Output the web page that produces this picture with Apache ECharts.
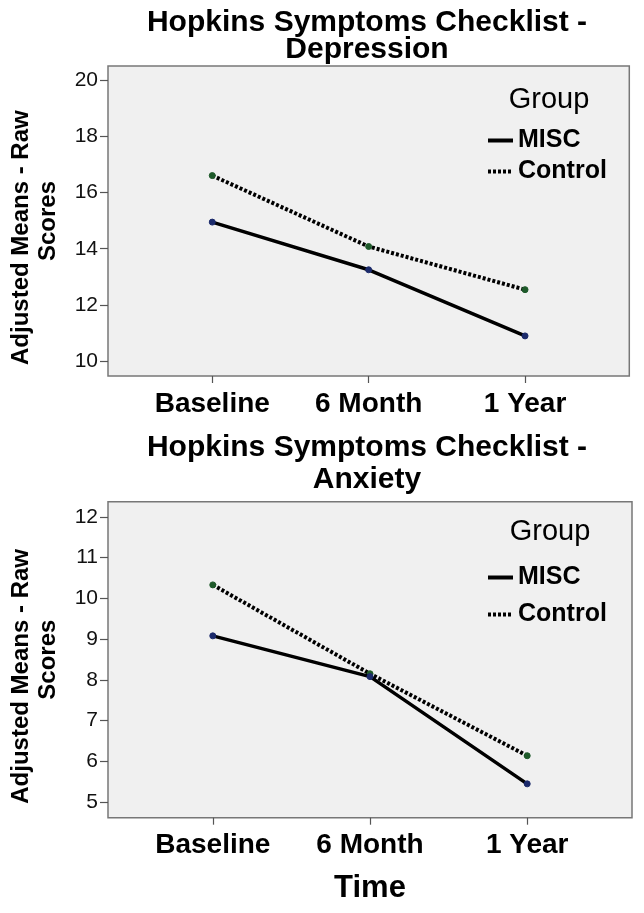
<!DOCTYPE html>
<html>
<head>
<meta charset="utf-8">
<script src="https://cdn.jsdelivr.net/npm/echarts@6/dist/echarts.min.js"></script>
<style>
html,body{margin:0;padding:0;background:#fff;}
#chart{width:644px;height:913px;}
</style>
</head>
<body>
<div id="chart"></div>
<script>
// ---- data ----
var categories = ['Baseline', '6 Month', '1 Year'];
var groups = ['MISC', 'Control'];
var depMISC = [14.95, 13.25, 10.89];
var depControl = [16.61, 14.08, 12.54];
var anxMISC = [9.08, 8.08, 5.45];
var anxControl = [10.33, 8.15, 6.14];
var depTicks = [10, 12, 14, 16, 18, 20];
var anxTicks = [5, 6, 7, 8, 9, 10, 11, 12];
var catIdx = [0, 1, 2];

var FONT = 'Liberation Sans, Arial, Helvetica, sans-serif';
function pairs(vals) { return vals.map(function (v, i) { return [i, v]; }); }

var chart = echarts.init(document.getElementById('chart'), null, {renderer: 'canvas'});

function xAxis(gridIndex, showName) {
  return {
    type: 'value', gridIndex: gridIndex, min: -2/3, max: 8/3,
    axisLine: {show: false, onZero: false},
    splitLine: {show: false},
    axisTick: {show: true, customValues: catIdx, length: 7, lineStyle: {color: '#555', width: 1.2}},
    axisLabel: {
      customValues: catIdx, margin: 14,
      formatter: function (v) { return categories[Math.round(v)]; },
      fontFamily: FONT, fontWeight: 'bold', fontSize: 28, color: '#000'
    },
    name: showName ? 'Time' : '',
    nameLocation: 'middle', nameGap: 55,
    nameTextStyle: {fontFamily: FONT, fontWeight: 'bold', fontSize: 31, color: '#000'}
  };
}
function yAxis(gridIndex, min, max, ticks) {
  return {
    type: 'value', gridIndex: gridIndex, min: min, max: max,
    axisLine: {show: false, onZero: false},
    splitLine: {show: false},
    axisTick: {show: true, customValues: ticks, length: 8, lineStyle: {color: '#555', width: 1.2}},
    axisLabel: {customValues: ticks, margin: 10, fontFamily: FONT, fontSize: 21, color: '#111'},
    name: 'Adjusted Means - Raw     \nScores',
    nameLocation: 'middle', nameRotate: 90, nameGap: 46,
    nameTextStyle: {fontFamily: FONT, fontWeight: 'bold', fontSize: 24, lineHeight: 27, color: '#000'}
  };
}
function series(name, vals, idx, dotted, markColor) {
  return {
    name: name, type: 'line', xAxisIndex: idx, yAxisIndex: idx,
    data: pairs(vals),
    symbol: 'circle', symbolSize: 6,
    itemStyle: {color: markColor, borderColor: markColor},
    lineStyle: {color: '#000', width: dotted ? 4 : 3.5, type: dotted ? [3, 2] : 'solid', cap: 'butt'},
    emphasis: {disabled: true},
    animation: false, z: dotted ? 3 : 4
  };
}
function legend(top, gap) {
  return {
    data: groups, orient: 'vertical', left: 486, top: top, padding: 0,
    itemWidth: 25, itemHeight: 14, itemGap: gap,
    itemStyle: {opacity: 0},
    lineStyle: {width: 4},
    textStyle: {fontFamily: FONT, fontWeight: 'bold', fontSize: 25, color: '#000'},
    selectedMode: false
  };
}

var option = {
  backgroundColor: '#fff',
  animation: false,
  title: [
    {text: 'Hopkins Symptoms Checklist -\nDepression', left: 367, top: 9, padding: 0, textAlign: 'center',
     textStyle: {fontFamily: FONT, fontWeight: 'bold', fontSize: 30, lineHeight: 27, color: '#000'}},
    {text: 'Hopkins Symptoms Checklist -\nAnxiety', left: 367, top: 432, padding: 0, textAlign: 'center',
     textStyle: {fontFamily: FONT, fontWeight: 'bold', fontSize: 30, lineHeight: 32, color: '#000'}},
    {text: 'Group', left: 549, top: 85, padding: 0, textAlign: 'center',
     textStyle: {fontFamily: FONT, fontWeight: 'normal', fontSize: 29, color: '#000'}},
    {text: 'Group', left: 550, top: 517, padding: 0, textAlign: 'center',
     textStyle: {fontFamily: FONT, fontWeight: 'normal', fontSize: 29, color: '#000'}}
  ],
  legend: [legend(128, 6), legend(565, 12)],
  grid: [
    {left: 106.7, top: 66, width: 522.6, height: 310, show: true, backgroundColor: '#f0f0f0', borderColor: '#777', borderWidth: 1.5, containLabel: false},
    {left: 106.7, top: 501.7, width: 525.3, height: 316, show: true, backgroundColor: '#f0f0f0', borderColor: '#777', borderWidth: 1.5, containLabel: false}
  ],
  xAxis: [xAxis(0, false), xAxis(1, true)],
  yAxis: [yAxis(0, 9.46, 20.52, depTicks), yAxis(1, 4.62, 12.37, anxTicks)],
  series: [
    series('MISC', depMISC, 0, false, '#1b2a6b'),
    series('Control', depControl, 0, true, '#1e5a2a'),
    series('MISC', anxMISC, 1, false, '#1b2a6b'),
    series('Control', anxControl, 1, true, '#1e5a2a')
  ]
};
chart.setOption(option);
</script>
</body>
</html>
